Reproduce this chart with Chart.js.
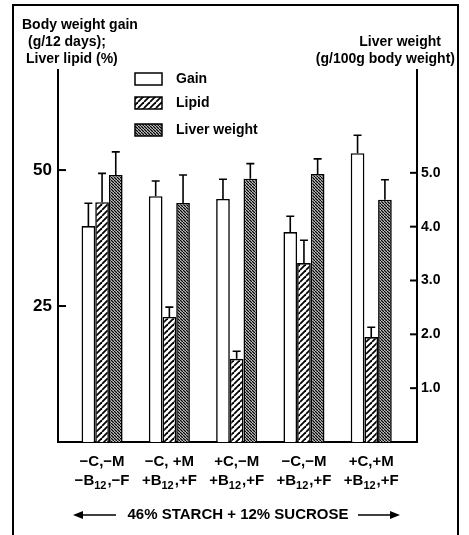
<!DOCTYPE html>
<html>
<head>
<meta charset="utf-8">
<script src="https://cdn.jsdelivr.net/npm/chart.js@4.4.1/dist/chart.umd.min.js"></script>
<style>
  body { margin: 0; background: #fff; }
  #wrap { width: 469px; height: 535px; }
</style>
</head>
<body>
<div id="wrap"><canvas id="c" width="469" height="535"></canvas></div>
<script>
// data
// each label: first line, then second line as [sign, ",F part"] around B12
const catTop = ['\u2212C,\u2212M', '\u2212C, +M', '+C,\u2212M', '\u2212C,\u2212M', '+C,+M'];
const catBottom = [['\u2212B', '12', ',\u2212F'], ['+B', '12', ',+F'], ['+B', '12', ',+F'], ['+B', '12', ',+F'], ['+B', '12', ',+F']];
const gain = [39.7, 45.2, 44.7, 38.6, 53.1];
const gainErr = [4.2, 2.8, 3.6, 2.9, 3.3];
const lipid = [44.1, 23.0, 15.3, 32.9, 19.3];
const lipidErr = [5.3, 1.8, 1.4, 4.2, 1.8];
const liver = [4.96, 4.44, 4.89, 4.98, 4.50];
const liverErr = [0.43, 0.52, 0.28, 0.28, 0.37];
const leftTicks = [25, 50];
const rightTicks = [1, 2, 3, 4, 5];

const FONT = '"Liberation Sans", Arial, sans-serif';

function hatch(size, back, lw) {
  const c = document.createElement('canvas');
  c.width = size; c.height = size;
  const g = c.getContext('2d');
  g.fillStyle = '#fff';
  g.fillRect(0, 0, size, size);
  g.strokeStyle = '#000';
  g.lineWidth = lw;
  for (const o of [-size, 0, size]) {
    g.beginPath();
    if (back) { g.moveTo(o, 0); g.lineTo(o + size, size); }
    else { g.moveTo(o, size); g.lineTo(o + size, 0); }
    g.stroke();
  }
  return g.createPattern(c, 'repeat');
}
const lipidFill = hatch(6, false, 1.8);
const liverFill = hatch(3, true, 1.4);

const pts = arr => arr.map((v, i) => ({ x: i, y: v }));

const errs = [gainErr, lipidErr, liverErr];

const extras = {
  id: 'extras',
  beforeDraw(chart) {
    const ctx = chart.ctx;
    ctx.save();
    ctx.fillStyle = '#fff';
    ctx.fillRect(0, 0, chart.width, chart.height);
    ctx.strokeStyle = '#000';
    ctx.lineWidth = 2;
    ctx.strokeRect(13, 5, 445, 560);
    ctx.restore();
  },
  afterDatasetsDraw(chart) {
    const ctx = chart.ctx;
    ctx.save();
    ctx.strokeStyle = '#000';
    ctx.lineWidth = 1.6;
    chart.data.datasets.forEach((ds, di) => {
      const meta = chart.getDatasetMeta(di);
      const sc = chart.scales[ds.yAxisID];
      meta.data.forEach((bar, i) => {
        const top = sc.getPixelForValue(ds.data[i].y + errs[di][i]);
        ctx.beginPath();
        ctx.moveTo(bar.x, bar.y);
        ctx.lineTo(bar.x, top);
        ctx.moveTo(bar.x - 4, top);
        ctx.lineTo(bar.x + 4, top);
        ctx.stroke();
      });
    });
    ctx.restore();
  },
  afterDraw(chart) {
    const ctx = chart.ctx;
    const a = chart.chartArea;
    const xs = chart.scales.x, yl = chart.scales.y, yr = chart.scales.y1;
    ctx.save();
    ctx.strokeStyle = '#000';
    ctx.lineWidth = 2;
    // inward ticks
    leftTicks.forEach(v => {
      const y = yl.getPixelForValue(v);
      ctx.beginPath(); ctx.moveTo(a.left, y); ctx.lineTo(a.left + 8, y); ctx.stroke();
    });
    rightTicks.forEach(v => {
      const y = yr.getPixelForValue(v);
      ctx.beginPath(); ctx.moveTo(a.right, y); ctx.lineTo(a.right - 7, y); ctx.stroke();
    });

    // category labels, B12 with a subscript
    ctx.fillStyle = '#000';
    ctx.textBaseline = 'alphabetic';
    ctx.textAlign = 'left';
    const big = 'bold 15px ' + FONT, small = 'bold 11px ' + FONT;
    catTop.forEach((t, i) => {
      const cx = xs.getPixelForValue(i);
      ctx.font = big;
      ctx.textAlign = 'center';
      ctx.fillText(t, cx, 466);
      ctx.textAlign = 'left';
      const [p, s, q] = catBottom[i];
      const wp = ctx.measureText(p).width, wq = ctx.measureText(q).width;
      ctx.font = small;
      const ws = ctx.measureText(s).width;
      let x = cx - (wp + ws + wq + 1) / 2;
      ctx.font = big;
      ctx.fillText(p, x, 485);
      x += wp;
      ctx.font = small;
      ctx.fillText(s, x, 489);
      x += ws + 1;
      ctx.font = big;
      ctx.fillText(q, x, 485);
    });

    // axis titles
    ctx.font = 'bold 14px ' + FONT;
    ctx.textBaseline = 'middle';
    ctx.textAlign = 'left';
    ctx.fillText('Body weight gain', 22, 25);
    ctx.fillText('(g/12 days);', 28, 42);
    ctx.fillText('Liver lipid (%)', 26, 59);
    ctx.textAlign = 'right';
    ctx.fillText('Liver weight', 441, 42);
    ctx.fillText('(g/100g body weight)', 455, 59);

    // legend
    const items = [['Gain', '#fff', 73], ['Lipid', lipidFill, 97], ['Liver weight', liverFill, 124]];
    ctx.textAlign = 'left';
    items.forEach(([t, f, y]) => {
      ctx.fillStyle = f;
      ctx.fillRect(135, y, 27, 12);
      ctx.lineWidth = 1.5;
      ctx.strokeRect(135, y, 27, 12);
      ctx.fillStyle = '#000';
      ctx.fillText(t, 176, y + 6);
    });

    // bottom caption with arrows
    ctx.font = 'bold 15px ' + FONT;
    ctx.textAlign = 'center';
    ctx.fillText('46% STARCH + 12% SUCROSE', 238, 515);
    ctx.lineWidth = 1.6;
    ctx.beginPath();
    ctx.moveTo(76, 515); ctx.lineTo(116, 515);
    ctx.moveTo(358, 515); ctx.lineTo(397, 515);
    ctx.stroke();
    ctx.beginPath();
    ctx.moveTo(73, 515); ctx.lineTo(83, 511); ctx.lineTo(83, 519); ctx.closePath();
    ctx.moveTo(400, 515); ctx.lineTo(390, 511); ctx.lineTo(390, 519); ctx.closePath();
    ctx.fill();
    ctx.restore();
  }
};

new Chart(document.getElementById('c'), {
  type: 'bar',
  data: {
    datasets: [
      { label: 'Gain', data: pts(gain), yAxisID: 'y', backgroundColor: '#fff', borderColor: '#000', borderWidth: 1.6 },
      { label: 'Lipid', data: pts(lipid), yAxisID: 'y', backgroundColor: lipidFill, borderColor: '#000', borderWidth: 1.6 },
      { label: 'Liver weight', data: pts(liver), yAxisID: 'y1', backgroundColor: liverFill, borderColor: '#000', borderWidth: 1.6 }
    ]
  },
  options: {
    responsive: false,
    animation: false,
    layout: { padding: { top: 70, left: 0, right: 0, bottom: 0 } },
    categoryPercentage: 0.61,
    barPercentage: 1,
    plugins: { legend: { display: false }, tooltip: { enabled: false } },
    scales: {
      x: {
        type: 'linear',
        offset: false,
        min: -0.655,
        max: 4.68,
        afterBuildTicks: s => { s.ticks = catTop.map((c, i) => ({ value: i })); },
        afterFit: s => { s.height = 93; },
        grid: { display: false, drawTicks: false },
        border: { display: true, color: '#000', width: 2 },
        ticks: { display: false }
      },
      y: {
        position: 'left',
        min: 0,
        max: 68.4,
        afterBuildTicks: s => { s.ticks = leftTicks.map(v => ({ value: v })); },
        afterFit: s => { s.width = 58; },
        grid: { display: false, drawTicks: false },
        border: { display: true, color: '#000', width: 2 },
        ticks: { padding: 6, color: '#000', font: { family: FONT, size: 17, weight: 'bold' } }
      },
      y1: {
        position: 'right',
        min: 0,
        max: 6.91,
        afterBuildTicks: s => { s.ticks = rightTicks.map(v => ({ value: v })); },
        afterFit: s => { s.width = 52; },
        grid: { display: false, drawTicks: false },
        border: { display: true, color: '#000', width: 2 },
        ticks: { padding: 4, color: '#000', font: { family: FONT, size: 14, weight: 'bold' }, callback: v => v.toFixed(1) }
      }
    }
  },
  plugins: [extras]
});
</script>
</body>
</html>
